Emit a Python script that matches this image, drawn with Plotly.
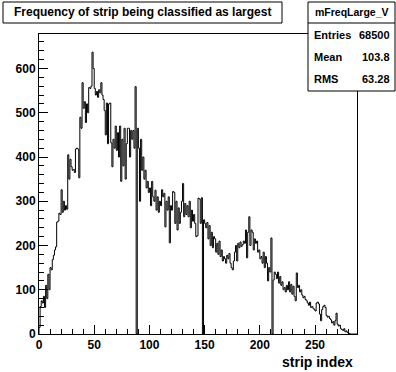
import plotly.graph_objects as go

# Histogram counts per strip (bin width 1, strips 0..287)
counts_000_049 = [15, 62, 75, 70, 85, 60, 110, 80, 135, 100,
                  150, 145, 168, 178, 190, 197, 253, 255, 273, 270,
                  326, 275, 300, 280, 290, 282, 405, 350, 395, 378,
                  370, 372, 365, 418, 420, 418, 353, 490, 465, 568,
                  510, 525, 478, 520, 500, 557, 555, 560, 637, 600]
counts_050_099 = [555, 540, 548, 535, 552, 545, 568, 540, 530, 505,
                  450, 522, 430, 520, 522, 432, 378, 440, 420, 470,
                  415, 455, 400, 470, 345, 440, 380, 465, 350, 430,
                  465, 465, 400, 460, 440, 460, 420, 559, 0, 465,
                  420, 300, 440, 370, 400, 350, 370, 330, 345, 320]
counts_100_149 = [330, 290, 345, 310, 300, 325, 280, 310, 275, 300,
                  290, 326, 310, 318, 242, 300, 280, 310, 206, 290,
                  280, 322, 320, 250, 300, 235, 285, 250, 275, 300,
                  340, 265, 295, 270, 290, 265, 300, 240, 280, 255,
                  270, 250, 220, 222, 307, 305, 250, 308, 0, 258]
counts_150_199 = [250, 240, 252, 215, 245, 200, 230, 195, 220, 215,
                  185, 205, 180, 210, 175, 190, 165, 175, 170, 160,
                  178, 170, 182, 160, 150, 145, 165, 185, 200, 165,
                  205, 195, 208, 198, 202, 210, 205, 235, 172, 230,
                  265, 200, 235, 230, 190, 215, 205, 210, 185, 190]
counts_200_249 = [170, 175, 160, 185, 150, 175, 160, 120, 150, 140,
                  217, 0, 122, 140, 135, 125, 140, 115, 130, 110,
                  118, 100, 105, 95, 110, 100, 118, 95, 112, 90,
                  108, 85, 75, 138, 105, 110, 95, 100, 88, 82,
                  85, 78, 75, 70, 65, 72, 60, 62, 58, 55]
counts_250_287 = [52, 70, 72, 68, 45, 30, 55, 62, 65, 60,
                  42, 38, 40, 35, 32, 25, 28, 20, 30, 47,
                  22, 18, 20, 12, 10, 8, 12, 5, 7, 3,
                  2, 1, 0, 0, 0, 0, 0, 0]

counts = (counts_000_049 + counts_050_099 + counts_100_149 +
          counts_150_199 + counts_200_249 + counts_250_287)
n_bins = len(counts)
x_edges = [0] + list(range(n_bins + 1))
y_steps = [0] + counts + [counts[-1]]

title_text = "Frequency of strip being classified as largest"
stats_name = "mFreqLarge_V"
stats_labels = ["Entries", "Mean", "RMS"]
stats_values = ["68500", "103.8", "63.28"]
x_title = "strip index"

FONT = "Liberation Sans"
W, H = 396, 372
L, R, T, B = 39, 39, 34, 38
PW, PH = W - L - R, H - T - B


def px(xpix):
    return (xpix - L) / PW


def py(ypix):
    return (H - B - ypix) / PH


fig = go.Figure()
fig.add_trace(go.Scatter(x=x_edges, y=y_steps, mode="lines",
                         line=dict(shape="hv", color="black", width=1),
                         hoverinfo="skip", showlegend=False))

tick_font = dict(family=FONT, size=12, color="black", weight="bold")
fig.update_xaxes(range=[0, 288], showgrid=False, zeroline=False,
                 showline=True, mirror=True, linecolor="black", linewidth=1,
                 ticks="inside", ticklen=9, tickwidth=1, tickcolor="black",
                 tick0=0, dtick=50, tickfont=tick_font, automargin=False,
                 minor=dict(ticks="inside", ticklen=5, dtick=10, tick0=0,
                            tickcolor="black", showgrid=False))
fig.update_yaxes(range=[0, 678], showgrid=False, zeroline=False,
                 showline=True, mirror=True, linecolor="black", linewidth=1,
                 ticks="inside", ticklen=9, tickwidth=1, tickcolor="black",
                 tick0=0, dtick=100, tickfont=tick_font, automargin=False,
                 minor=dict(ticks="inside", ticklen=5, dtick=20, tick0=0,
                            tickcolor="black", showgrid=False))

shapes = [
    # title box
    dict(type="rect", xref="paper", yref="paper",
         x0=px(3), x1=px(282), y0=py(23), y1=py(2),
         line=dict(color="black", width=1), fillcolor="white", layer="above"),
    # stats box
    dict(type="rect", xref="paper", yref="paper",
         x0=px(308), x1=px(395), y0=py(91), y1=py(2),
         line=dict(color="black", width=1), fillcolor="white", layer="above"),
    dict(type="line", xref="paper", yref="paper",
         x0=px(308), x1=px(395), y0=py(23), y1=py(23),
         line=dict(color="black", width=1), layer="above"),
]

ann_font = dict(family=FONT, color="black", weight="bold")
annotations = [
    dict(text=title_text, xref="paper", yref="paper", x=px(142.5), y=py(12.5),
         xanchor="center", yanchor="middle", showarrow=False,
         font=dict(size=12, **ann_font)),
    dict(text=stats_name, xref="paper", yref="paper", x=px(351.5), y=py(12.5),
         xanchor="center", yanchor="middle", showarrow=False,
         font=dict(size=10.5, **ann_font)),
    dict(text=x_title, xref="paper", yref="paper", x=px(355), y=py(362),
         xanchor="right", yanchor="middle", showarrow=False,
         font=dict(size=14, **ann_font)),
]
for lab, val, ypix in zip(stats_labels, stats_values, [35, 57, 79]):
    annotations.append(dict(text=lab, xref="paper", yref="paper", x=px(312), y=py(ypix),
                            xanchor="left", yanchor="middle", showarrow=False,
                            font=dict(size=11, **ann_font)))
    annotations.append(dict(text=val, xref="paper", yref="paper", x=px(392), y=py(ypix),
                            xanchor="right", yanchor="middle", showarrow=False,
                            font=dict(size=11, **ann_font)))

fig.update_layout(width=W, height=H, autosize=False,
                  margin=dict(l=L, r=R, t=T, b=B, pad=0),
                  paper_bgcolor="white", plot_bgcolor="white",
                  shapes=shapes, annotations=annotations, showlegend=False)

fig.write_html("out.html", config={"displayModeBar": False},
               post_script="document.body.style.margin='0';document.body.style.overflow='hidden';")
